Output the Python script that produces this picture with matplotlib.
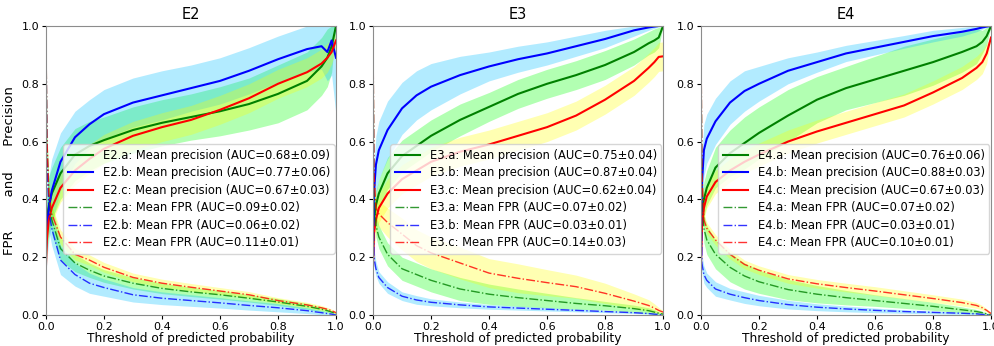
import numpy as np
import matplotlib
matplotlib.use('Agg')
import matplotlib.pyplot as plt

# threshold grid shared by all curves
thr = [0, 0.003, 0.01, 0.02, 0.05, 0.1, 0.15, 0.2, 0.3, 0.4, 0.5, 0.6, 0.7, 0.8, 0.9, 0.95, 0.97, 0.985, 1.0]

# ---- E2 ----
e2_prec_a = [0.25, 0.33, 0.38, 0.42, 0.49, 0.555, 0.585, 0.605, 0.64, 0.665, 0.685, 0.705, 0.73, 0.765, 0.81, 0.86, 0.89, 0.93, 1.0]
e2_prec_a_sd = [0.08, 0.1, 0.1, 0.09, 0.09, 0.09, 0.085, 0.08, 0.08, 0.08, 0.08, 0.085, 0.09, 0.1, 0.1, 0.1, 0.1, 0.09, 0.0]
e2_prec_b = [0.22, 0.30, 0.37, 0.43, 0.53, 0.615, 0.66, 0.695, 0.735, 0.76, 0.785, 0.81, 0.845, 0.885, 0.92, 0.93, 0.91, 0.95, 0.89]
e2_prec_b_sd = [0.1, 0.11, 0.11, 0.11, 0.1, 0.09, 0.085, 0.085, 0.085, 0.085, 0.08, 0.08, 0.08, 0.08, 0.08, 0.08, 0.1, 0.12, 0.2]
e2_prec_c = [0.17, 0.26, 0.33, 0.37, 0.44, 0.50, 0.54, 0.575, 0.62, 0.65, 0.675, 0.71, 0.75, 0.80, 0.84, 0.87, 0.89, 0.91, 0.95]
e2_prec_c_sd = [0.05, 0.05, 0.05, 0.05, 0.05, 0.05, 0.05, 0.05, 0.05, 0.05, 0.05, 0.05, 0.05, 0.05, 0.05, 0.05, 0.05, 0.04, 0.03]
e2_fpr_a = [1.0, 0.6, 0.40, 0.33, 0.23, 0.18, 0.155, 0.135, 0.11, 0.092, 0.08, 0.07, 0.058, 0.045, 0.03, 0.02, 0.015, 0.01, 0.005]
e2_fpr_a_sd = [0.0, 0.05, 0.05, 0.05, 0.04, 0.03, 0.025, 0.022, 0.02, 0.018, 0.016, 0.015, 0.013, 0.012, 0.01, 0.008, 0.006, 0.005, 0.003]
e2_fpr_b = [1.0, 0.55, 0.36, 0.30, 0.19, 0.14, 0.11, 0.095, 0.07, 0.058, 0.05, 0.042, 0.033, 0.025, 0.015, 0.008, 0.005, 0.003, 0.0]
e2_fpr_b_sd = [0.0, 0.08, 0.07, 0.06, 0.05, 0.04, 0.035, 0.03, 0.025, 0.022, 0.02, 0.018, 0.016, 0.014, 0.01, 0.007, 0.005, 0.003, 0.0]
e2_fpr_c = [1.0, 0.62, 0.42, 0.35, 0.27, 0.21, 0.19, 0.165, 0.13, 0.11, 0.096, 0.083, 0.07, 0.05, 0.035, 0.025, 0.02, 0.015, 0.008]
e2_fpr_c_sd = [0.0, 0.04, 0.03, 0.03, 0.025, 0.02, 0.018, 0.017, 0.015, 0.014, 0.013, 0.012, 0.011, 0.01, 0.009, 0.008, 0.006, 0.005, 0.004]

# ---- E3 ----
e3_prec_a = [0.25, 0.33, 0.38, 0.42, 0.49, 0.55, 0.585, 0.62, 0.675, 0.72, 0.765, 0.80, 0.83, 0.865, 0.91, 0.94, 0.95, 0.96, 1.0]
e3_prec_a_sd = [0.05, 0.05, 0.05, 0.05, 0.055, 0.055, 0.055, 0.055, 0.055, 0.05, 0.05, 0.05, 0.05, 0.05, 0.045, 0.04, 0.04, 0.035, 0.0]
e3_prec_b = [0.2, 0.42, 0.52, 0.57, 0.64, 0.715, 0.76, 0.79, 0.83, 0.86, 0.885, 0.905, 0.93, 0.955, 0.985, 0.995, 0.998, 1.0, 1.0]
e3_prec_b_sd = [0.0, 0.1, 0.1, 0.1, 0.1, 0.09, 0.085, 0.08, 0.065, 0.05, 0.045, 0.04, 0.035, 0.03, 0.02, 0.01, 0.006, 0.003, 0.0]
e3_prec_c = [0.17, 0.28, 0.33, 0.37, 0.42, 0.47, 0.50, 0.53, 0.565, 0.59, 0.62, 0.65, 0.69, 0.745, 0.81, 0.855, 0.875, 0.893, 0.895]
e3_prec_c_sd = [0.04, 0.05, 0.05, 0.05, 0.05, 0.05, 0.05, 0.05, 0.05, 0.05, 0.05, 0.05, 0.05, 0.05, 0.05, 0.05, 0.05, 0.05, 0.05]
e3_fpr_a = [1.0, 0.45, 0.31, 0.27, 0.21, 0.16, 0.14, 0.12, 0.09, 0.072, 0.06, 0.05, 0.04, 0.032, 0.022, 0.015, 0.01, 0.006, 0.003]
e3_fpr_a_sd = [0.0, 0.04, 0.04, 0.04, 0.04, 0.04, 0.04, 0.04, 0.04, 0.035, 0.03, 0.025, 0.02, 0.015, 0.012, 0.01, 0.008, 0.005, 0.003]
e3_fpr_b = [1.0, 0.2, 0.16, 0.13, 0.095, 0.065, 0.052, 0.044, 0.035, 0.028, 0.024, 0.02, 0.016, 0.012, 0.008, 0.005, 0.003, 0.002, 0.0]
e3_fpr_b_sd = [0.0, 0.03, 0.025, 0.02, 0.02, 0.015, 0.015, 0.012, 0.01, 0.008, 0.007, 0.006, 0.005, 0.004, 0.003, 0.002, 0.002, 0.001, 0.0]
e3_fpr_c = [1.0, 0.5, 0.37, 0.35, 0.32, 0.28, 0.24, 0.215, 0.18, 0.145, 0.127, 0.112, 0.098, 0.075, 0.048, 0.033, 0.024, 0.016, 0.01]
e3_fpr_c_sd = [0.0, 0.04, 0.04, 0.045, 0.05, 0.055, 0.055, 0.055, 0.055, 0.05, 0.05, 0.045, 0.04, 0.035, 0.025, 0.02, 0.015, 0.01, 0.005]

# ---- E4 ----
e4_prec_a = [0.25, 0.35, 0.40, 0.44, 0.51, 0.56, 0.595, 0.63, 0.69, 0.745, 0.785, 0.815, 0.845, 0.875, 0.91, 0.93, 0.945, 0.965, 1.0]
e4_prec_a_sd = [0.0, 0.06, 0.06, 0.06, 0.07, 0.08, 0.09, 0.09, 0.09, 0.08, 0.075, 0.08, 0.085, 0.08, 0.07, 0.06, 0.04, 0.03, 0.0]
e4_prec_b = [0.2, 0.45, 0.57, 0.61, 0.67, 0.735, 0.775, 0.80, 0.845, 0.875, 0.905, 0.925, 0.945, 0.965, 0.98, 0.99, 0.995, 0.998, 1.0]
e4_prec_b_sd = [0.0, 0.1, 0.09, 0.085, 0.08, 0.075, 0.07, 0.06, 0.045, 0.035, 0.028, 0.025, 0.022, 0.02, 0.015, 0.01, 0.006, 0.003, 0.0]
e4_prec_c = [0.17, 0.30, 0.37, 0.41, 0.46, 0.50, 0.53, 0.555, 0.60, 0.635, 0.665, 0.695, 0.725, 0.77, 0.82, 0.855, 0.875, 0.905, 0.96]
e4_prec_c_sd = [0.03, 0.04, 0.04, 0.04, 0.04, 0.04, 0.04, 0.04, 0.04, 0.04, 0.04, 0.04, 0.04, 0.04, 0.04, 0.04, 0.04, 0.035, 0.0]
e4_fpr_a = [1.0, 0.45, 0.30, 0.26, 0.21, 0.165, 0.135, 0.115, 0.088, 0.072, 0.06, 0.05, 0.04, 0.03, 0.018, 0.012, 0.008, 0.004, 0.0]
e4_fpr_a_sd = [0.0, 0.05, 0.05, 0.05, 0.05, 0.05, 0.045, 0.04, 0.035, 0.03, 0.025, 0.02, 0.017, 0.014, 0.01, 0.007, 0.005, 0.003, 0.0]
e4_fpr_b = [1.0, 0.18, 0.14, 0.12, 0.09, 0.072, 0.06, 0.05, 0.036, 0.027, 0.021, 0.016, 0.012, 0.009, 0.006, 0.004, 0.002, 0.001, 0.0]
e4_fpr_b_sd = [0.0, 0.03, 0.03, 0.025, 0.025, 0.02, 0.02, 0.018, 0.015, 0.012, 0.01, 0.008, 0.006, 0.005, 0.004, 0.003, 0.002, 0.001, 0.0]
e4_fpr_c = [1.0, 0.5, 0.33, 0.30, 0.26, 0.21, 0.175, 0.155, 0.125, 0.108, 0.095, 0.083, 0.07, 0.057, 0.043, 0.033, 0.025, 0.016, 0.005]
e4_fpr_c_sd = [0.0, 0.03, 0.02, 0.02, 0.018, 0.016, 0.015, 0.015, 0.015, 0.015, 0.015, 0.015, 0.014, 0.013, 0.012, 0.01, 0.008, 0.006, 0.003]

# AUC strings for the legends
e2_auc_prec = ['0.68±0.09', '0.77±0.06', '0.67±0.03']
e2_auc_fpr = ['0.09±0.02', '0.06±0.02', '0.11±0.01']
e3_auc_prec = ['0.75±0.04', '0.87±0.04', '0.62±0.04']
e3_auc_fpr = ['0.07±0.02', '0.03±0.01', '0.14±0.03']
e4_auc_prec = ['0.76±0.06', '0.88±0.03', '0.67±0.03']
e4_auc_fpr = ['0.07±0.02', '0.03±0.01', '0.10±0.01']

line_colors = ['g', 'b', 'r']
band_colors = ['lime', 'deepskyblue', 'yellow']
models = ['a', 'b', 'c']


def draw_panel(ax, name, precs, prec_sds, fprs, fpr_sds, auc_prec, auc_fpr):
    x = np.array(thr)
    # bands first
    for i in range(3):
        m = np.array(precs[i]); s = np.array(prec_sds[i])
        ax.fill_between(x, np.clip(m - s, 0, 1), np.clip(m + s, 0, 1),
                        color=band_colors[i], alpha=0.3, lw=0)
    for i in range(3):
        m = np.array(fprs[i]); s = np.array(fpr_sds[i])
        ax.fill_between(x, np.clip(m - s, 0, 1), np.clip(m + s, 0, 1),
                        color=band_colors[i], alpha=0.3, lw=0)
    for i in range(3):
        ax.plot(x, precs[i], color=line_colors[i], lw=1.5,
                label='%s.%s: Mean precision (AUC=%s)' % (name, models[i], auc_prec[i]))
    for i in range(3):
        ax.plot(x, fprs[i], color=line_colors[i], lw=1, ls='-.', alpha=0.8,
                label='%s.%s: Mean FPR (AUC=%s)' % (name, models[i], auc_fpr[i]))
    ax.set_xlim(0, 1)
    ax.set_ylim(0, 1)
    ax.set_title(name, fontsize=10.5, pad=5)
    ax.set_xlabel('Threshold of predicted probability', fontsize=8.8, labelpad=0)
    ax.tick_params(labelsize=8, length=3, pad=2)
    for sp in ax.spines.values():
        sp.set_edgecolor('0.55')
    ax.legend(loc='upper left', bbox_to_anchor=(0.06, 0.59), borderaxespad=0,
              fontsize=8.3, handlelength=2.2, labelspacing=0.38)


fig = plt.figure(figsize=(9.95, 3.46), dpi=100)
lefts = [0.0462, 0.3749, 0.7045]
axes = [fig.add_axes([l, 0.0896, 0.2915, 0.8353]) for l in lefts]

draw_panel(axes[0], 'E2', [e2_prec_a, e2_prec_b, e2_prec_c], [e2_prec_a_sd, e2_prec_b_sd, e2_prec_c_sd],
           [e2_fpr_a, e2_fpr_b, e2_fpr_c], [e2_fpr_a_sd, e2_fpr_b_sd, e2_fpr_c_sd], e2_auc_prec, e2_auc_fpr)
draw_panel(axes[1], 'E3', [e3_prec_a, e3_prec_b, e3_prec_c], [e3_prec_a_sd, e3_prec_b_sd, e3_prec_c_sd],
           [e3_fpr_a, e3_fpr_b, e3_fpr_c], [e3_fpr_a_sd, e3_fpr_b_sd, e3_fpr_c_sd], e3_auc_prec, e3_auc_fpr)
draw_panel(axes[2], 'E4', [e4_prec_a, e4_prec_b, e4_prec_c], [e4_prec_a_sd, e4_prec_b_sd, e4_prec_c_sd],
           [e4_fpr_a, e4_fpr_b, e4_fpr_c], [e4_fpr_a_sd, e4_fpr_b_sd, e4_fpr_c_sd], e4_auc_prec, e4_auc_fpr)

axes[0].set_ylabel('FPR        and      Precision', fontsize=9.5, labelpad=4)

fig.savefig('out.png', dpi=100)
